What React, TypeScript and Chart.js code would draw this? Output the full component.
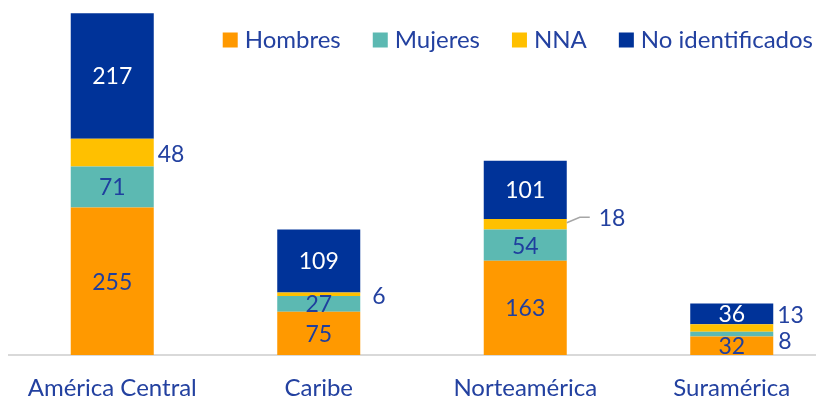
import React, { useEffect, useRef } from 'react';
import { Chart, registerables } from 'chart.js';

Chart.register(...registerables);

const categories = ['América Central', 'Caribe', 'Norteamérica', 'Suramérica'];
const seriesNames = ['Hombres', 'Mujeres', 'NNA', 'No identificados'];
const hombres = [255, 75, 163, 32];
const mujeres = [71, 27, 54, 8];
const nna = [48, 6, 18, 13];
const noIdentificados = [217, 109, 101, 36];
const yMax = 600;

const COLORS = ['#FF9900', '#5CB9B2', '#FFC000', '#003399'];
const LABEL_COLORS = ['#1F3F9E', '#1F3F9E', '#1F3F9E', '#FFFFFF'];
const TEXT = '#2341A0';
const FONT = 'Lato, "DejaVu Sans", sans-serif';

// labels drawn beside the bar (dataset index, category index, pixel nudges)
const OUTSIDE = [
  { ds: 2, i: 0, dx: 4, dy: 2, leader: false },
  { ds: 2, i: 1, dx: 12, dy: 2, leader: false },
  { ds: 2, i: 2, dx: 32, dy: -6, leader: true },
  { ds: 2, i: 3, dx: 4, dy: -13, leader: false },
  { ds: 1, i: 3, dx: 5, dy: 7, leader: false },
];

const labelsPlugin = {
  id: 'valueLabels',
  afterDatasetsDraw(chart: any) {
    const ctx = chart.ctx;
    ctx.save();
    ctx.font = `23px ${FONT}`;
    ctx.textBaseline = 'middle';
    chart.data.datasets.forEach((ds: any, di: number) => {
      const meta = chart.getDatasetMeta(di);
      meta.data.forEach((el: any, i: number) => {
        const { x, y, base, width } = el.getProps(['x', 'y', 'base', 'width'], true);
        const v = ds.data[i];
        const cy = (y + base) / 2;
        const o = OUTSIDE.find((q) => q.ds === di && q.i === i);
        if (o) {
          const right = x + width / 2;
          if (o.leader) {
            ctx.strokeStyle = '#A6A6A6';
            ctx.lineWidth = 1.5;
            ctx.beginPath();
            ctx.moveTo(right, cy - 1.5);
            ctx.lineTo(right + 13, cy + o.dy - 1);
            ctx.lineTo(right + 23, cy + o.dy - 1);
            ctx.stroke();
          }
          ctx.fillStyle = TEXT;
          ctx.textAlign = 'left';
          ctx.fillText(String(v), right + o.dx, cy + o.dy);
        } else {
          ctx.fillStyle = LABEL_COLORS[di];
          ctx.textAlign = 'center';
          ctx.fillText(String(v), x, cy + 1);
        }
      });
    });
    ctx.restore();
  },
};

const legendPlugin = {
  id: 'customLegend',
  afterDraw(chart: any) {
    const ctx = chart.ctx;
    ctx.save();
    ctx.font = `24px ${FONT}`;
    ctx.textBaseline = 'middle';
    ctx.textAlign = 'left';
    const box = 15;
    const gapBox = 7;
    const gapItem = 32;
    const items = chart.data.datasets.map((d: any) => ({
      label: d.label,
      color: d.backgroundColor,
      w: ctx.measureText(d.label).width,
    }));
    const total =
      items.reduce((s: number, it: any) => s + box + gapBox + it.w, 0) + gapItem * (items.length - 1);
    let x = 813 - total;
    const cy = 40;
    items.forEach((it: any) => {
      ctx.fillStyle = it.color;
      ctx.fillRect(x, cy - box / 2, box, box);
      x += box + gapBox;
      ctx.fillStyle = TEXT;
      ctx.fillText(it.label, x, cy);
      x += it.w + gapItem;
    });
    ctx.restore();
  },
};

export default function App() {
  const ref = useRef<HTMLCanvasElement | null>(null);
  useEffect(() => {
    document.body.style.margin = '0';
    if (!ref.current) return;
    const series = [hombres, mujeres, nna, noIdentificados];
    const chart = new Chart(ref.current, {
      type: 'bar',
      data: {
        labels: categories,
        datasets: series.map((d, k) => ({
          label: seriesNames[k],
          data: d,
          backgroundColor: COLORS[k],
          borderWidth: 0,
          barPercentage: 0.402,
          categoryPercentage: 1,
        })),
      },
      options: {
        responsive: false,
        animation: false,
        layout: { padding: { top: 8, left: 9, right: 1, bottom: 0 } },
        plugins: { legend: { display: false }, tooltip: { enabled: false } },
        scales: {
          x: {
            stacked: true,
            grid: { display: false, drawTicks: false },
            border: { display: true, color: '#D9D9D9', width: 2 },
            ticks: { color: TEXT, font: { family: FONT, size: 24 }, padding: 19, maxRotation: 0 },
            afterFit: (s: any) => {
              s.height = 46;
            },
          },
          y: { stacked: true, display: false, min: 0, max: yMax },
        },
      },
      plugins: [labelsPlugin, legendPlugin],
    });
    return () => chart.destroy();
  }, []);
  return (
    <div style={{ width: 816, height: 401, overflow: 'hidden' }}>
      <canvas ref={ref} width={836} height={401} style={{ display: 'block' }} />
    </div>
  );
}
